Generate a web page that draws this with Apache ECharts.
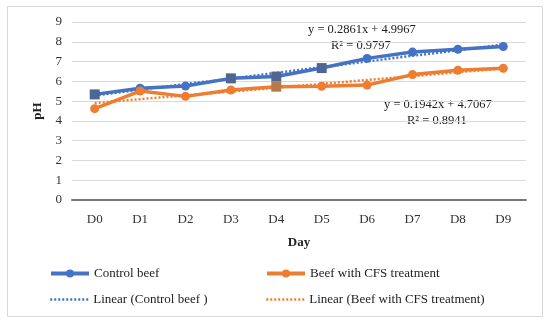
<!DOCTYPE html>
<html><head><meta charset="utf-8">
<script src="https://cdn.jsdelivr.net/npm/echarts@6/dist/echarts.min.js"></script>
<style>html,body{margin:0;padding:0;background:#fff}#c{width:550px;height:325px}</style>
</head><body><div id="c"></div>
<script>
const days = ['D0','D1','D2','D3','D4','D5','D6','D7','D8','D9'];
const controlBeef = [5.34,5.65,5.76,6.15,6.24,6.67,7.16,7.48,7.62,7.76];
const cfsBeef = [4.62,5.51,5.24,5.56,5.73,5.75,5.81,6.34,6.56,6.66];
const controlTrend = [5.28,5.57,5.86,6.14,6.43,6.71,7.00,7.29,7.57,7.86];
const cfsTrend = [4.90,5.10,5.29,5.48,5.68,5.87,6.07,6.26,6.46,6.65];
const controlSquares = [0,3,4,5];
const cfsSquares = [4];
const eqControl = ['y = 0.2861x + 4.9967','R² = 0.9797'];
const eqCfs = ['y = 0.1942x + 4.7067','R² = 0.8941'];

const F = '"Liberation Serif", "DejaVu Serif", serif';
const BLUE = '#4472c4', ORANGE = '#ed7d31';
function pts(vals, sq, sqColor){
  return vals.map((v,i)=> sq.includes(i) ? {value:v, symbol:'rect', symbolSize:10, itemStyle:{color:sqColor}} : v);
}
const chart = echarts.init(document.getElementById('c'));
const leg = (name, left, top, color, hideSym) => ({data:[name], left, top, itemWidth:38, itemHeight:10, itemGap:0,
  itemStyle: {color: color, opacity: hideSym ? 0 : 1},
  lineStyle: {width: hideSym ? 2.5 : 4, color: color},
  textStyle:{fontFamily:F, fontSize:13, color:'#222'}, selectedMode:false});
chart.setOption({
  animation:false,
  textStyle:{fontFamily:F},
  grid:{left:72, right:24, top:22, bottom:125},
  xAxis:{type:'category', data:days, boundaryGap:true,
    name:'Day', nameLocation:'middle', nameGap:36,
    nameTextStyle:{fontFamily:F, fontSize:13, fontWeight:'bold', color:'#222'},
    axisLine:{lineStyle:{color:'#777', width:2}}, axisTick:{show:false},
    axisLabel:{fontFamily:F, fontSize:13, color:'#333', margin:13}},
  yAxis:{type:'value', min:0, max:9, interval:1,
    name:'pH', nameLocation:'middle', nameGap:23,
    nameTextStyle:{fontFamily:F, fontSize:13, fontWeight:'bold', color:'#222'},
    axisLine:{show:false}, axisTick:{show:false},
    splitLine:{lineStyle:{color:'#d9d9d9', width:1}},
    axisLabel:{fontFamily:F, fontSize:13, color:'#333', margin:10}},
  legend:[leg('Control beef',44,262,BLUE,false), leg('Beef with CFS treatment',260,262,ORANGE,false),
          leg('Linear (Control beef )',44,288,BLUE,true), leg('Linear (Beef with CFS treatment)',260,288,ORANGE,true)],
  series:[
    {name:'Control beef', type:'line', data:pts(controlBeef, controlSquares, '#4f6593'), color:BLUE,
     symbol:'circle', symbolSize:9, lineStyle:{width:3.5, color:BLUE}, itemStyle:{color:BLUE}, z:4},
    {name:'Beef with CFS treatment', type:'line', data:pts(cfsBeef, cfsSquares, '#b57a4c'), color:ORANGE,
     symbol:'circle', symbolSize:9, lineStyle:{width:3.5, color:ORANGE}, itemStyle:{color:ORANGE}, z:4},
    {name:'Linear (Control beef )', type:'line', data:controlTrend, color:BLUE, symbol:'none',
     lineStyle:{width:2.5, type:[2,2], color:BLUE}, z:3},
    {name:'Linear (Beef with CFS treatment)', type:'line', data:cfsTrend, color:ORANGE, symbol:'none',
     lineStyle:{width:2.5, type:[2,2], color:ORANGE}, z:3}
  ],
  graphic:[
    {type:'rect', shape:{x:7.5, y:6.5, width:535, height:310}, style:{fill:'none', stroke:'#d9d9d9', lineWidth:1}, z:-1},
    {type:'text', left:308, top:23, style:{text:eqControl[0], font:'12.5px '+F, fill:'#222'}},
    {type:'text', left:331, top:39, style:{text:eqControl[1], font:'12.5px '+F, fill:'#222'}},
    {type:'text', left:384, top:98, style:{text:eqCfs[0], font:'12.5px '+F, fill:'#222'}},
    {type:'text', left:407, top:114, style:{text:eqCfs[1], font:'12.5px '+F, fill:'#222'}}
  ]
});
</script></body></html>
